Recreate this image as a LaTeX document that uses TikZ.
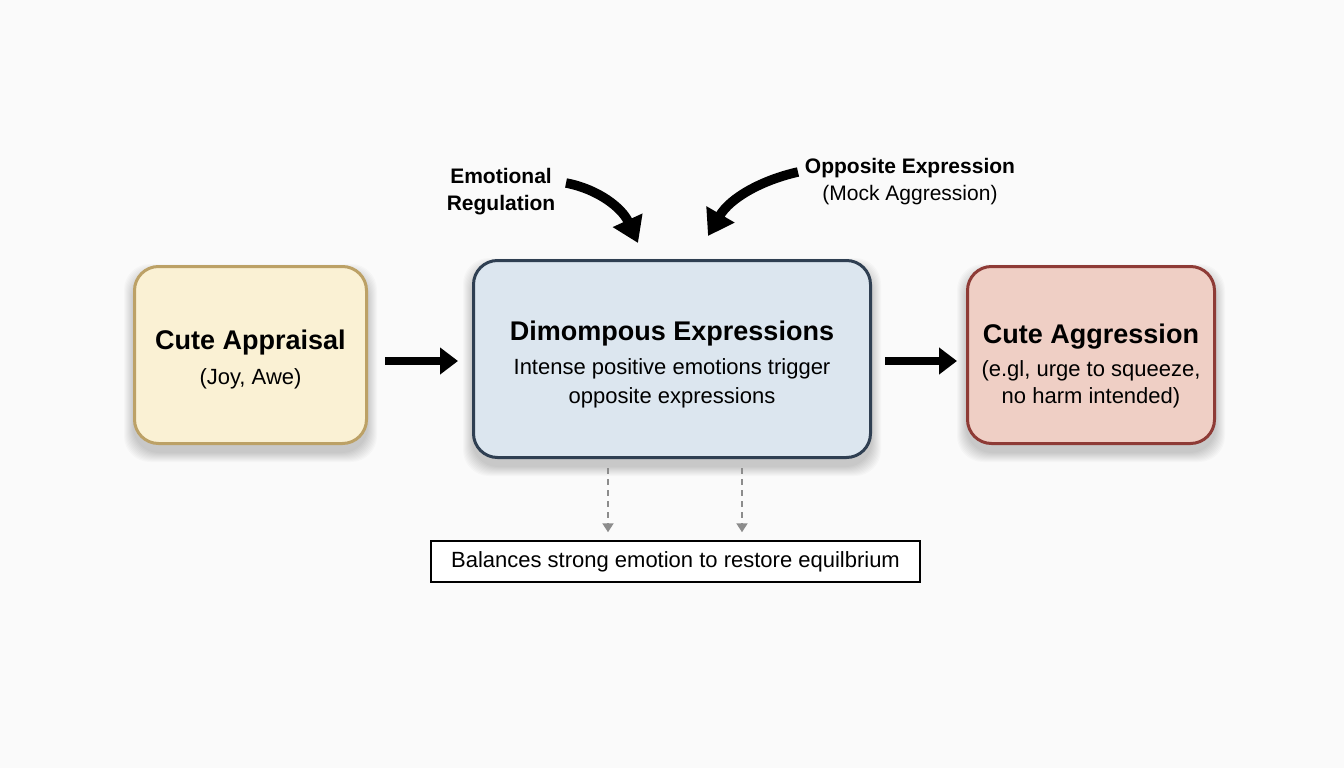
\documentclass[tikz,border=0pt]{standalone}
\usepackage{fontspec}
\setmainfont{Liberation Sans}
\usetikzlibrary{arrows.meta,calc}
\definecolor{bgc}{HTML}{FAFAFA}
\definecolor{apfill}{HTML}{FAF1D4}
\definecolor{apdraw}{HTML}{BCA166}
\definecolor{dmfill}{HTML}{DCE6EF}
\definecolor{dmdraw}{HTML}{2F3F52}
\definecolor{agfill}{HTML}{EFCFC5}
\definecolor{agdraw}{HTML}{8E3B36}
\definecolor{dashgray}{HTML}{8C8C8C}
\newcommand{\titlefont}{\fontsize{27}{32}\selectfont\bfseries}
\pgfdeclarelayer{bglayer}
\pgfdeclarelayer{shadowlayer}
\pgfsetlayers{bglayer,shadowlayer,main}
\begin{document}
\begin{tikzpicture}[x=1pt,y=-1pt,
  mainbox/.style={rounded corners=24pt, line width=3pt, inner sep=0pt},
  boxtext/.style={align=center, inner sep=0pt},
  flowarrow/.style={line width=8pt, -{Triangle[length=18pt,width=26pt]}},
  bendarrow/.style={line width=9.5pt, -{Triangle[length=25pt,width=31pt]}},
  dasharrow/.style={dashgray, line width=2pt, dash pattern=on 6pt off 5pt,
    -{Triangle[length=9pt,width=11pt]}, shorten <=9pt, shorten >=8pt},
  lbl/.style={align=center, inner sep=0pt}
]
\useasboundingbox (0,0) rectangle (1344,768);
\begin{pgfonlayer}{bglayer}
\fill[bgc] (0,0) rectangle (1344,768);
\end{pgfonlayer}

\node[mainbox, fill=apfill, draw=apdraw, minimum width=232pt, minimum height=177pt] (appr) at (250.5,355) {};
\node[boxtext, font=\fontsize{22}{28}\selectfont] (apprtxt) at (250.5,359)
  {{\titlefont Cute Appraisal}\\[7pt](Joy, Awe)};

\node[mainbox, fill=dmfill, draw=dmdraw, minimum width=397pt, minimum height=197pt] (dimo) at (672,359) {};
\node[boxtext, font=\fontsize{22}{29}\selectfont] (dimotxt) at (672,364)
  {{\titlefont Dimompous Expressions}\\[5pt]Intense positive emotions trigger\\opposite expressions};

\node[mainbox, fill=agfill, draw=agdraw, minimum width=247pt, minimum height=177pt] (aggr) at (1091,355) {};
\node[boxtext, font=\fontsize{22}{27}\selectfont] (aggrtxt) at (1091,366)
  {{\titlefont Cute Aggression}\\[6pt](e.gl, urge to squeeze,\\no harm intended)};

\begin{pgfonlayer}{shadowlayer}
\foreach \n in {appr,dimo,aggr}{
  \foreach \k in {0,...,9}{
    \fill[black, opacity=0.02, rounded corners=26pt]
      ([xshift=-\k pt, yshift=-8pt-\k pt]\n.south west) rectangle ([xshift=\k pt, yshift=-8pt+\k pt]\n.north east);
  }
}
\end{pgfonlayer}

\node[draw=black, line width=1.5pt, fill=white, minimum width=489pt, minimum height=41pt,
  inner sep=0pt, font=\fontsize{22}{26}\selectfont] (bal) at (675.5,561.5)
  {Balances strong emotion to restore equilbrium};

\node[lbl, font=\fontsize{21}{27}\selectfont\bfseries] (emreg) at (501,192) {Emotional\\Regulation};
\node[lbl, font=\fontsize{21}{27}\selectfont] (opp) at (910,182)
  {{\bfseries Opposite Expression}\\(Mock Aggression)};

\coordinate (midline) at (0,361);
\draw[flowarrow] ([xshift=17pt]appr.east |- midline) -- ([xshift=-14pt]dimo.west |- midline);
\draw[flowarrow] ([xshift=13pt]dimo.east |- midline) -- ([xshift=-9pt]aggr.west |- midline);

\coordinate (c1s) at (566,183);
\coordinate (c1e) at (638,243);
\coordinate (c2s) at (798,172);
\coordinate (c2e) at (708,236);
\draw[bendarrow] (c1s) .. controls (598,189) and (622,208) .. (c1e);
\draw[bendarrow] (c2s) .. controls (762,180) and (730,198) .. (c2e);

\draw[dasharrow] ([xshift=-64pt]dimo.south) -- ([xshift=-64pt]dimo.south |- bal.north);
\draw[dasharrow] ([xshift=70pt]dimo.south) -- ([xshift=70pt]dimo.south |- bal.north);
\end{tikzpicture}
\end{document}
